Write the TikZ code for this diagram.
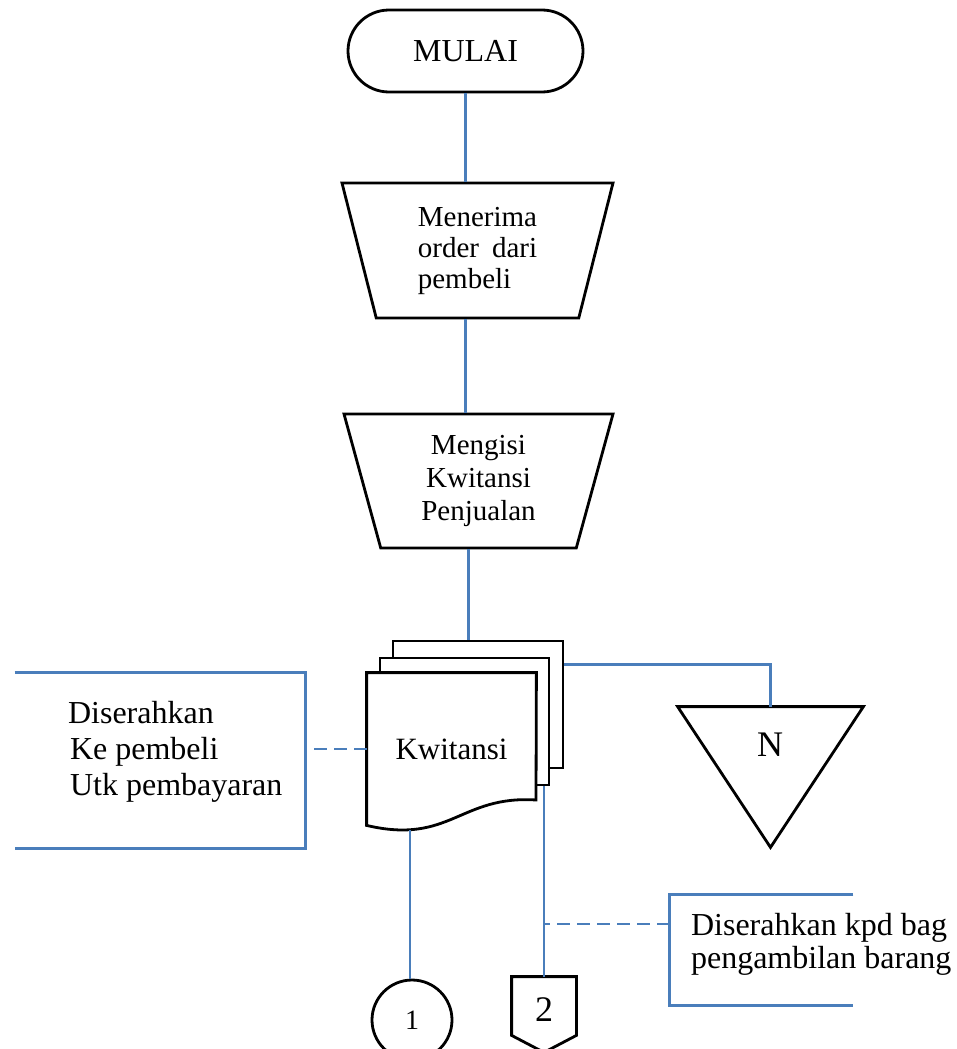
\documentclass[tikz,border=0pt]{standalone}
\usepackage{fontspec}
\setmainfont{Liberation Serif}
\usetikzlibrary{shapes.geometric,calc}
\definecolor{linkblue}{RGB}{74,126,187}

\begin{document}
\begin{tikzpicture}[x=0.5pt,y=-0.5pt,
  box/.style={draw=black, line width=1.4pt, fill=white},
  outline/.style={draw=black, line width=1.4pt},
  link/.style={draw=linkblue, line width=1.2pt},
  note/.style={draw=linkblue, line width=1.2pt, dash pattern=on 6.5pt off 3.5pt},
  brace/.style={draw=linkblue, line width=1.3pt},
  frame/.style={inner sep=0pt},
  manual/.style={box, trapezium, shape border rotate=180, trapezium stretches body, inner sep=0pt}]
  \useasboundingbox (0,0) rectangle (957,1049);

  % Start
  \node[box, rounded corners=20.5pt, minimum width=117.5pt, minimum height=41pt, font=\fontsize{16}{18}\selectfont] (mulai) at (465.5,51) {MULAI};

  % Manual steps
  \node[manual, trapezium angle=68.6, minimum width=135.5pt, minimum height=67.5pt, align=left, font=\fontsize{14.5}{15.5}\selectfont] (order) at (477.5,250.5) {Menerima\\order\hspace{0.2em}\ dari\\pembeli};
  \node[manual, trapezium angle=68.1, minimum width=134.5pt, minimum height=67pt, align=center, font=\fontsize{14.5}{16.5}\selectfont] (isi) at (478.5,481) {Mengisi\\Kwitansi\\Penjualan};

  % Kwitansi (three copies)
  \node[box, minimum width=85pt, minimum height=63.5pt] (back) at (478,704.5) {};
  \node[box, minimum width=84.5pt, minimum height=63.5pt] (mid) at (464.5,721.5) {};
  \node[frame, minimum width=84.5pt, minimum height=76pt] (kwit) at (451.5,749) {};
  \draw[box] (kwit.north west) -- (kwit.north east) -- (536,800)
    .. controls (460,795) and (450,845) .. (kwit.south west) -- cycle;
  \node[font=\fontsize{15.5}{17}\selectfont] (kwlabel) at (kwit) {Kwitansi};
  \coordinate (kwbot) at (410,830);

  % Arsip N
  \node[frame, minimum width=92.5pt, minimum height=70pt] (ntri) at (770.5,777) {};
  \draw[outline] (ntri.north west) -- (ntri.north east) -- (ntri.south) -- cycle;
  \node[font=\fontsize{18}{20}\selectfont] (nlabel) at (770,745) {N};

  % Connectors 1 and 2
  \node[box, circle, minimum size=40pt, inner sep=0pt, font=\fontsize{14}{16}\selectfont] (c1) at (412,1020) {1};
  \node[frame, minimum width=32pt, minimum height=33pt, font=\fontsize{18}{20}\selectfont] (off2) at (544,1010) {2};
  \draw[outline] (off2.north west) -- (off2.north east) -- ([yshift=4pt]off2.south east)
    -- ([yshift=-4.5pt]off2.south) -- ([yshift=4pt]off2.south west) -- cycle;

  % Notes
  \node[frame, minimum width=145pt, minimum height=87.5pt] (lbox) at (160,760.5) {};
  \draw[brace] (lbox.north west) -- (lbox.north east) -- (lbox.south east) -- (lbox.south west);
  \node[anchor=west, align=left, font=\fontsize{16}{18}\selectfont] (ltext) at (61,752) {Diserahkan\\\hspace{1pt}Ke pembeli\\\hspace{1pt}Utk pembayaran};
  \node[frame, minimum width=91.5pt, minimum height=55pt] (rbox) at (761.5,950) {};
  \draw[brace] (rbox.north east) -- (rbox.north west) -- (rbox.south west) -- (rbox.south east);
  \node[anchor=west, align=left, font=\fontsize{16}{16.5}\selectfont] (rtext) at (684,944) {Diserahkan kpd bag\\pengambilan barang};

  % Flow lines
  \draw[link] (mulai.south) -- (mulai.south |- order.north);
  \draw[link] (mulai.south |- order.south) -- (mulai.south |- isi.north);
  \draw[link] ([xshift=1.5pt]mulai.south |- isi.south) -- ([xshift=1.5pt]mulai.south |- back.north);
  \draw[link] ([yshift=-12.5pt]back.north east) -| (ntri.north);
  \draw[link] (kwbot) -- (kwbot |- c1.north);
  \draw[link] (off2.north |- mid.south) -- (off2.north);
  \draw[note] (kwit.west) -- (kwit.west -| lbox.east);
  \draw[note] ([yshift=13pt]rbox.west) -- ([yshift=13pt]rbox.west -| off2.north);
\end{tikzpicture}
\end{document}
